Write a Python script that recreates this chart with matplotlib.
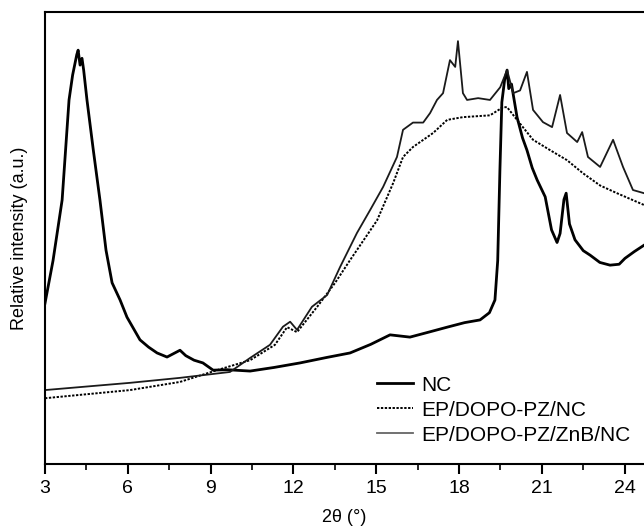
import matplotlib
matplotlib.use("Agg")
import matplotlib.pyplot as plt
from matplotlib.ticker import MultipleLocator

plt.rcParams["font.family"] = ["Liberation Sans", "DejaVu Sans"]

# NC
nc_x = [3.00, 3.29, 3.62, 3.87, 4.00, 4.15, 4.20, 4.27, 4.34, 4.40, 4.52, 4.75,
        4.99, 5.21, 5.43, 5.72, 5.97, 6.44, 6.75, 7.06, 7.42, 7.89, 8.10, 8.40,
        8.72, 9.09, 9.60, 10.43, 11.30, 12.24, 13.20, 14.05, 14.80, 15.50, 16.22,
        16.90, 17.57, 18.20, 18.76, 19.10, 19.30, 19.40, 19.48, 19.55, 19.65,
        19.74, 19.80, 19.90, 20.10, 20.30, 20.46, 20.65, 20.83, 21.12, 21.35,
        21.55, 21.66, 21.80, 21.88, 22.00, 22.20, 22.50, 22.75, 23.10, 23.47,
        23.80, 24.01, 24.35, 24.70]
nc_y = [35.6, 45.0, 58.4, 80.5, 86.0, 90.5, 91.5, 88.2, 89.7, 87.1, 80.5, 69.4,
        58.4, 47.3, 40.1, 36.3, 32.5, 27.5, 25.9, 24.6, 23.7, 25.2, 24.0, 23.0,
        22.4, 20.8, 20.9, 20.6, 21.4, 22.4, 23.6, 24.6, 26.5, 28.6, 28.1,
        29.2, 30.3, 31.3, 31.9, 33.5, 36.3, 45.0, 65.0, 80.0, 84.9,
        87.1, 83.0, 84.0, 76.7, 72.1, 69.4, 65.5, 62.8, 59.1, 51.8,
        49.0, 51.0, 58.5, 59.9, 53.1, 49.6, 47.2, 46.2, 44.6, 44.0,
        44.2, 45.5, 47.0, 48.4]

# EP/DOPO-PZ/NC
pz_x = [3.00, 6.08, 7.89, 9.23, 10.43, 11.33, 11.77, 12.13, 12.86, 13.51, 14.05,
        15.03, 15.61, 15.97, 16.33, 17.06, 17.57, 18.14, 19.12, 19.59, 19.74,
        20.10, 20.68, 21.30, 21.91, 22.49, 23.11, 23.72, 24.70]
pz_y = [14.6, 16.4, 18.2, 20.8, 23.0, 26.4, 30.3, 29.2, 34.8, 40.1, 45.1,
        53.9, 62.1, 67.9, 70.1, 73.2, 76.1, 76.7, 77.1, 78.9, 78.9,
        76.1, 71.7, 69.4, 67.2, 64.3, 61.6, 59.9, 57.3]

# EP/DOPO-PZ/ZnB/NC
znb_x = [3.00, 6.08, 7.89, 9.70, 10.43, 11.15, 11.62, 11.88, 12.13, 12.67, 13.22,
         13.69, 14.30, 14.78, 15.25, 15.75, 15.97, 16.33, 16.70, 16.95, 17.20,
         17.42, 17.67, 17.86, 17.96, 18.14, 18.29, 18.69, 19.12, 19.49, 19.74,
         19.96, 20.21, 20.46, 20.68, 21.04, 21.37, 21.66, 21.91, 22.28, 22.46,
         22.67, 23.11, 23.58, 23.94, 24.30, 24.70]
znb_y = [16.4, 18.0, 19.1, 20.4, 23.5, 26.4, 30.4, 31.5, 29.7, 34.8, 37.4,
         43.6, 51.1, 56.2, 61.3, 67.9, 73.9, 75.5, 75.5, 77.6, 80.5,
         82.0, 89.3, 87.8, 93.5, 82.0, 80.5, 80.9, 80.5, 83.3, 87.1,
         82.0, 82.6, 86.7, 78.3, 75.6, 74.5, 81.6, 73.2, 71.2, 73.4,
         67.9, 65.7, 71.7, 65.7, 60.6, 59.9]

fig = plt.figure(figsize=(6.44, 5.29), dpi=100)
ax = fig.add_axes([0.0699, 0.1223, 0.9301, 0.8556])

ax.plot(nc_x, nc_y, color="black", lw=2.0, label="NC")
ax.plot(pz_x, pz_y, color="black", lw=1.4, linestyle=(0, (1.2, 0.8)),
        label="EP/DOPO-PZ/NC")
ax.plot(znb_x, znb_y, color="#1a1a1a", lw=1.3, label="EP/DOPO-PZ/ZnB/NC")

ax.set_xlim(3, 24.7)
ax.set_ylim(0, 100)
ax.set_yticks([])
ax.spines["right"].set_visible(False)
for s in ("left", "top", "bottom"):
    ax.spines[s].set_linewidth(1.5)

ax.xaxis.set_major_locator(MultipleLocator(3))
ax.xaxis.set_minor_locator(MultipleLocator(1.5))
ax.tick_params(axis="x", which="major", direction="out", length=7, width=1.5,
               labelsize=14, pad=4)
ax.tick_params(axis="x", which="minor", direction="out", length=4, width=1.2)

ax.set_xlabel("2θ (°)", fontsize=13, labelpad=9)
ax.set_ylabel("Relative intensity (a.u.)", fontsize=13, labelpad=12)

leg = ax.legend(loc="upper left", bbox_to_anchor=(0.526, 0.233), fontsize=15,
                frameon=True, handlelength=1.73, handletextpad=0.43,
                labelspacing=0.29, borderpad=0.3, fancybox=False)
leg.get_frame().set_facecolor("white")
leg.get_frame().set_edgecolor("none")
leg.get_frame().set_alpha(1)
leg.get_lines()[2].set_color("#666666")

fig.savefig("out.png", dpi=100)
